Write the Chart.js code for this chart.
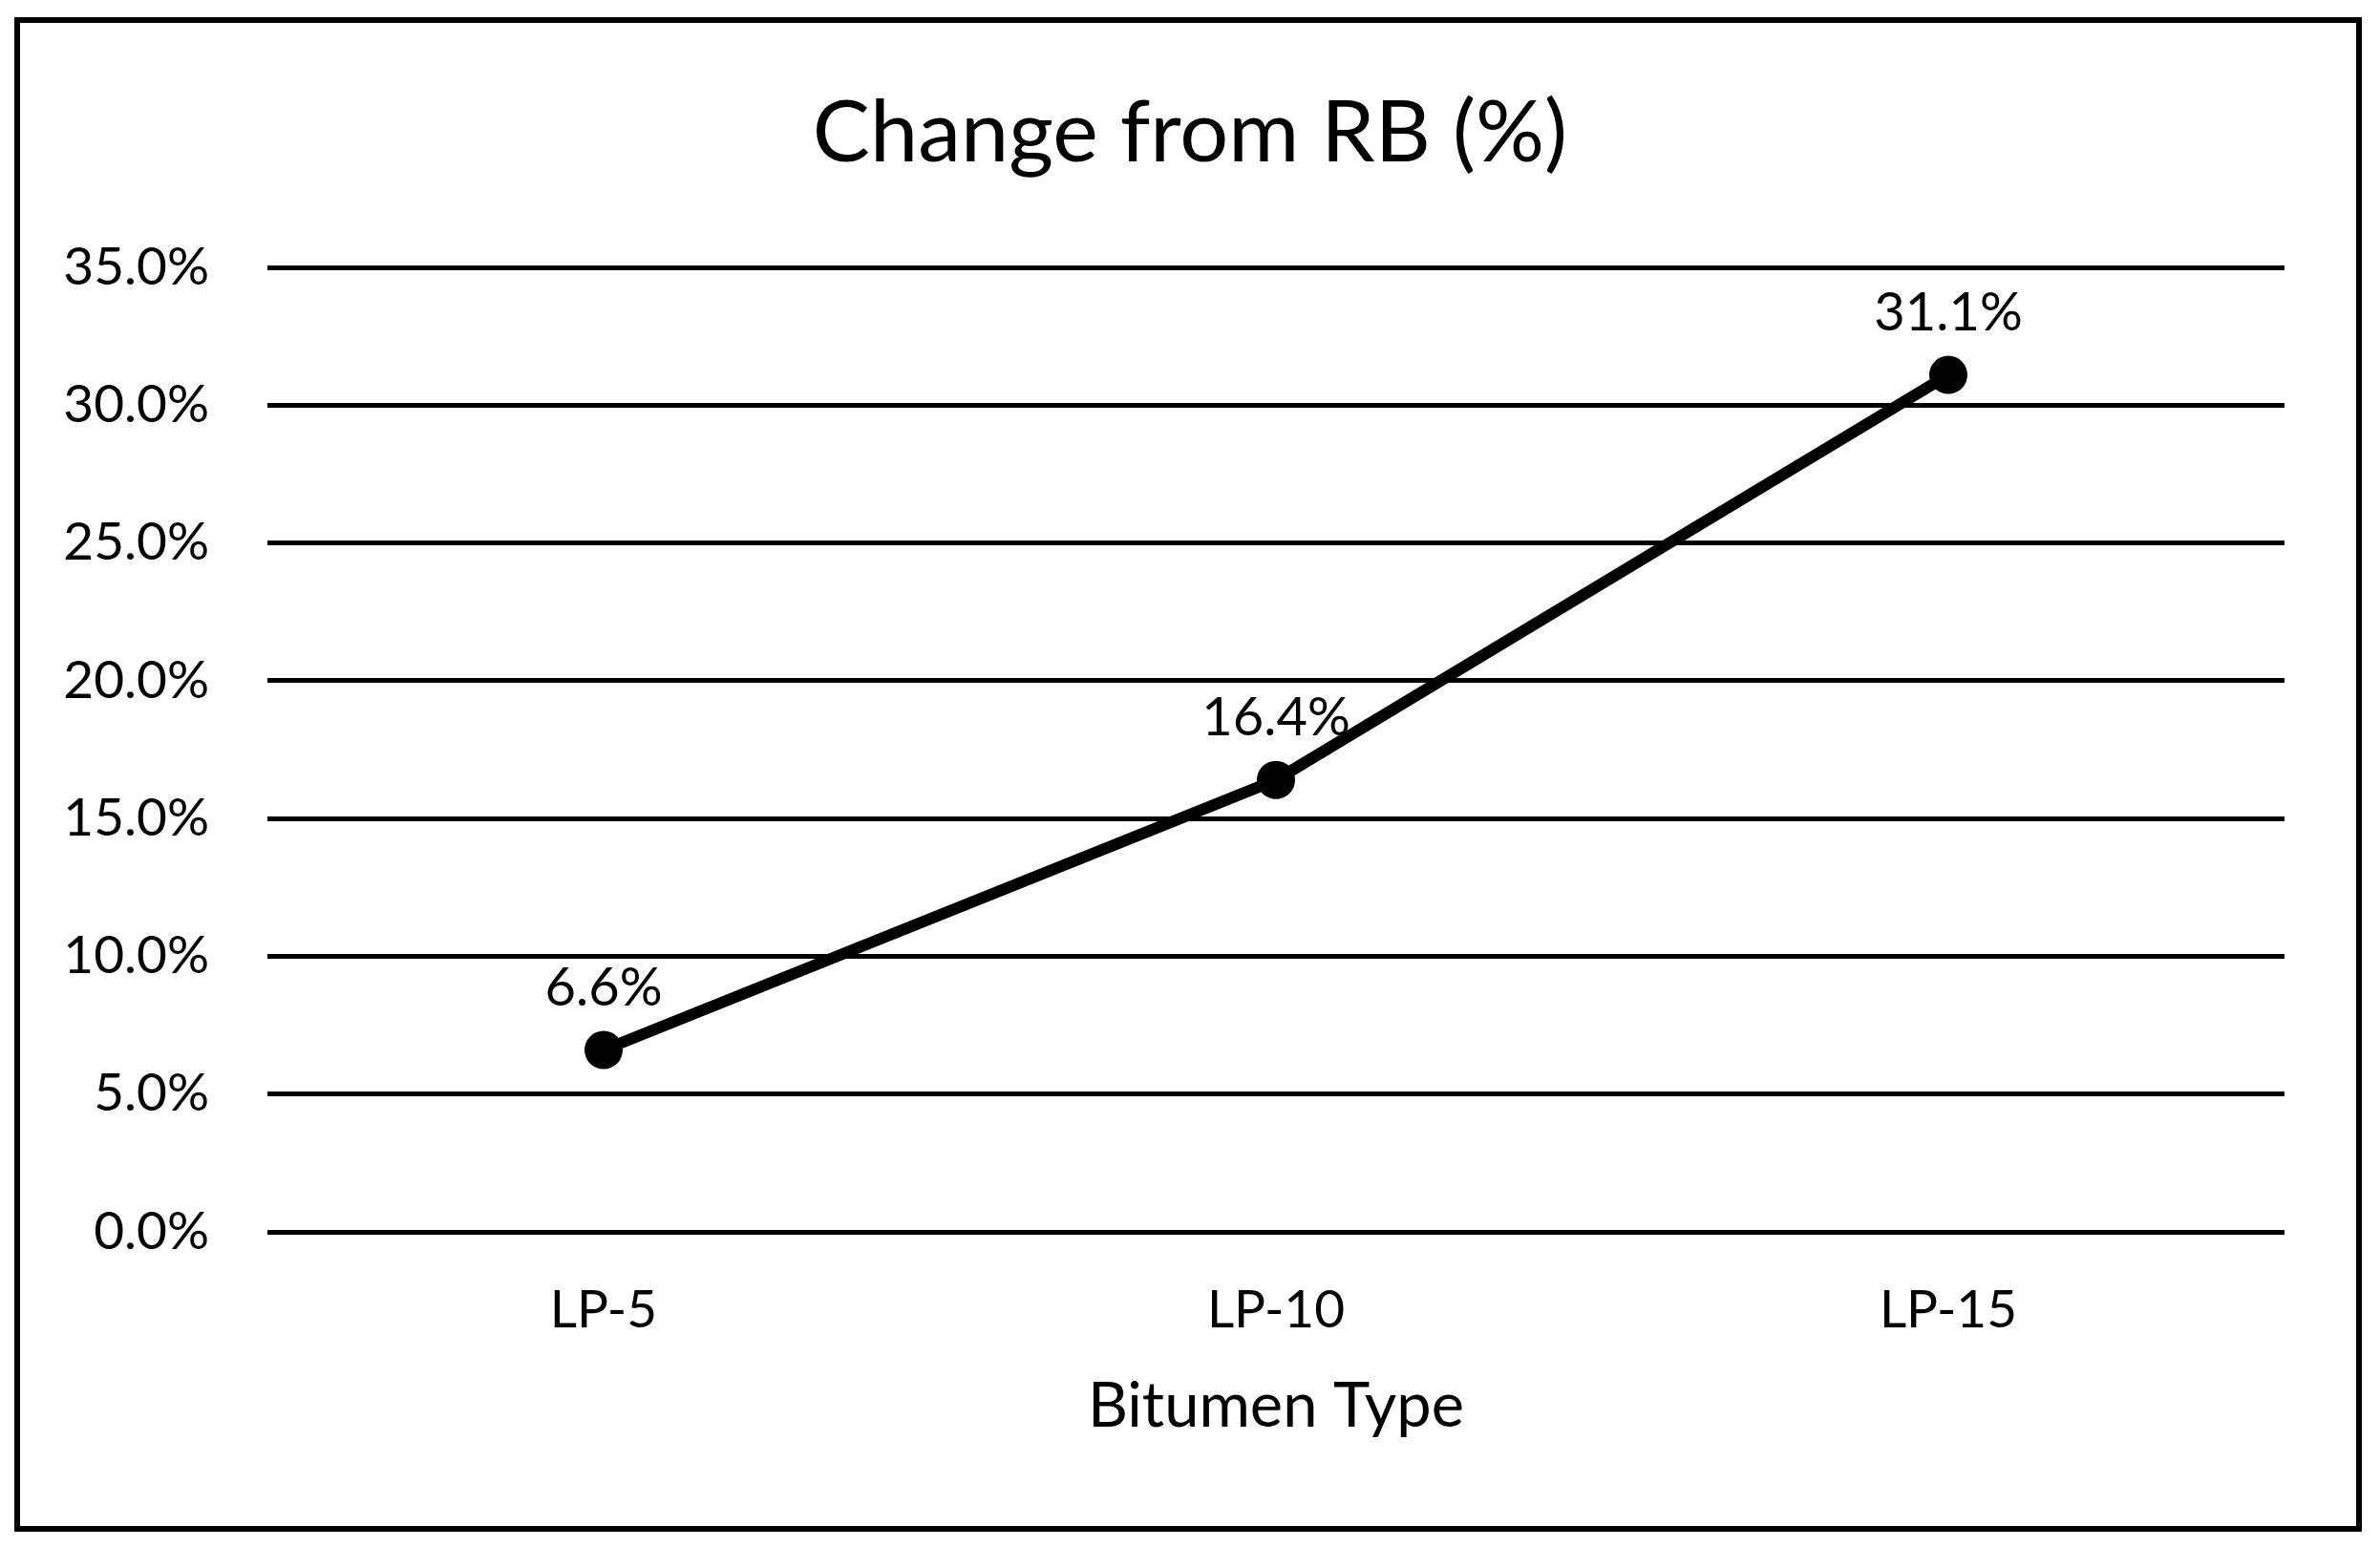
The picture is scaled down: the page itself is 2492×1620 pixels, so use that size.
<!DOCTYPE html>
<html lang="en">
<head>
    <meta charset="UTF-8">
    <title>Change from RB (%)</title>
    <script src="https://cdn.jsdelivr.net/npm/chart.js"></script>
    <style>
        html, body {
            margin: 0;
            padding: 0;
            background: #fff;
        }
        #wrap {
            width: 2492px;
            height: 1620px;
        }
    </style>
</head>
<body>
    <div id="wrap"><canvas id="chart"></canvas></div>

    <script>
        // Data
        const categories = ['LP-5', 'LP-10', 'LP-15'];
        const changePct = [6.6, 16.4, 31.1];
        const yTicks = [0, 5, 10, 15, 20, 25, 30, 35];

        const FONT = 'Lato, "Open Sans", sans-serif';
        const fmt = v => v.toFixed(1) + '%';

        // outer frame around the whole chart
        const framePlugin = {
            id: 'frame',
            afterDraw(chart) {
                const ctx = chart.ctx;
                ctx.save();
                ctx.strokeStyle = '#000';
                ctx.lineWidth = 6;
                ctx.strokeRect(18, 21, 2452, 1580);
                ctx.restore();
            }
        };

        // value labels above each point
        const valueLabels = {
            id: 'valueLabels',
            afterDatasetsDraw(chart) {
                const ctx = chart.ctx;
                const meta = chart.getDatasetMeta(0);
                ctx.save();
                ctx.fillStyle = '#000';
                ctx.font = '56px ' + FONT;
                ctx.textAlign = 'center';
                ctx.textBaseline = 'alphabetic';
                meta.data.forEach((pt, i) => {
                    ctx.fillText(fmt(changePct[i]), pt.x, pt.y - 47);
                });
                ctx.restore();
            }
        };

        new Chart(document.getElementById('chart'), {
            type: 'line',
            data: {
                labels: categories,
                datasets: [{
                    label: 'Change from RB (%)',
                    data: changePct,
                    borderColor: '#000',
                    backgroundColor: '#000',
                    borderWidth: 12,
                    pointRadius: 20,
                    pointBackgroundColor: '#000',
                    pointBorderWidth: 0,
                    tension: 0
                }]
            },
            options: {
                responsive: true,
                maintainAspectRatio: false,
                animation: false,
                layout: {
                    padding: 0
                },
                plugins: {
                    legend: { display: false },
                    tooltip: { enabled: false },
                    title: {
                        display: true,
                        text: 'Change from RB (%)',
                        color: '#000',
                        font: { family: FONT, size: 90, weight: 'normal', lineHeight: 1.2 },
                        padding: { top: 86, bottom: 86 }
                    }
                },
                scales: {
                    x: {
                        offset: true,
                        grid: { display: false, drawTicks: false },
                        border: { display: false },
                        ticks: {
                            color: '#000',
                            padding: 49,
                            font: { family: FONT, size: 55 }
                        },
                        title: {
                            display: true,
                            text: 'Bitumen Type',
                            color: '#000',
                            font: { family: FONT, size: 65 },
                            padding: { top: 0, bottom: 108 }
                        },
                        afterFit(scale) { scale.height = 330; }
                    },
                    y: {
                        min: yTicks[0],
                        max: yTicks[yTicks.length - 1],
                        grid: { color: '#000', lineWidth: 5, drawTicks: false },
                        border: { display: false },
                        afterBuildTicks(scale) {
                            scale.ticks = yTicks.map(v => ({ value: v }));
                        },
                        ticks: {
                            color: '#000',
                            padding: 61,
                            font: { family: FONT, size: 55 },
                            callback: v => fmt(v)
                        },
                        afterFit(scale) { scale.width = 280; }
                    },
                    // empty right margin so the title stays centred on the whole frame
                    yRight: {
                        position: 'right',
                        grid: { display: false, drawTicks: false },
                        border: { display: false },
                        ticks: { display: false },
                        afterFit(scale) { scale.width = 100; }
                    }
                }
            },
            plugins: [framePlugin, valueLabels]
        });
    </script>
</body>
</html>
